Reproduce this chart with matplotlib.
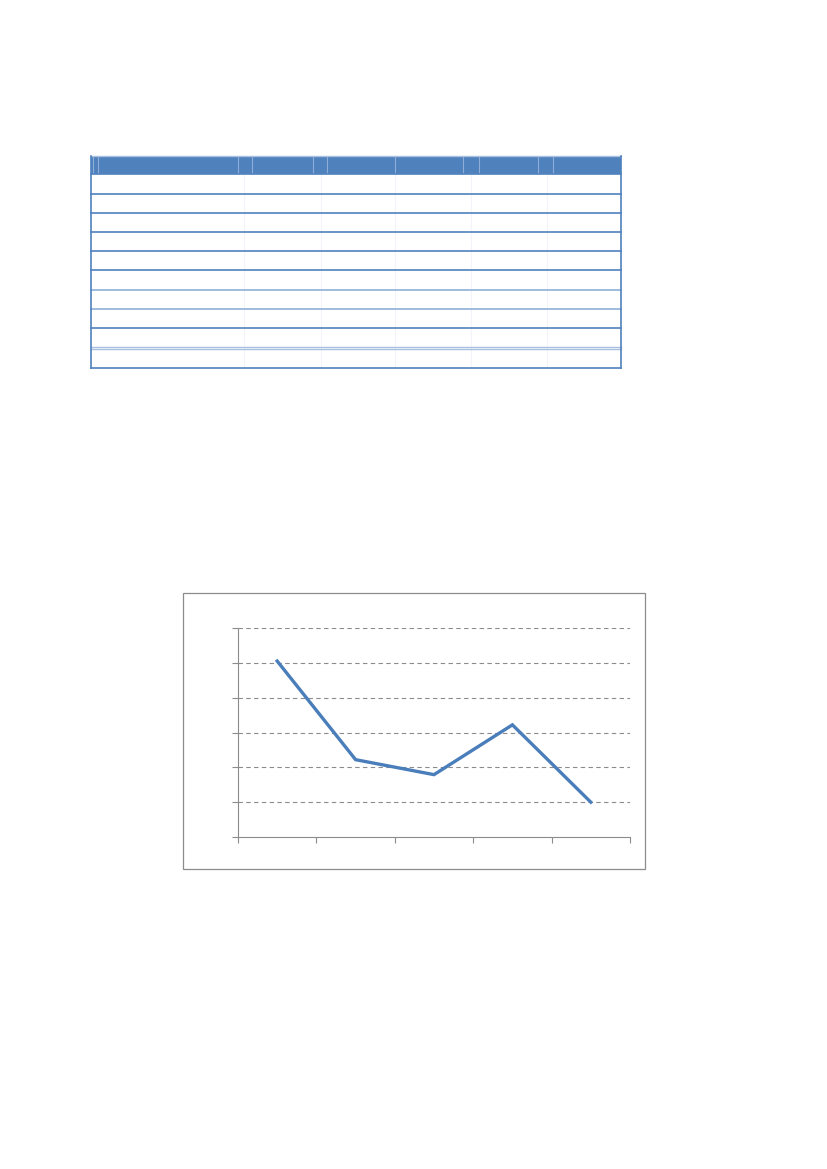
import matplotlib
matplotlib.use("Agg")
import matplotlib.pyplot as plt
from matplotlib.patches import Rectangle

# ---- data ----
categories = ["", "", "", "", ""]
values = [5.05, 2.22, 1.79, 3.22, 1.0]
y_ticks = [0, 1, 2, 3, 4, 5, 6]

# table structure (empty cells)
n_body_rows = 10
col_edges = [91, 244, 321, 395, 471, 547, 621]
header_seps = [92.5, 98.3, 237.7, 252.4, 312.6, 327.2, 395.3, 463.4, 478.7, 538.4, 553.3]
row_edges = [174.3, 194, 213, 232.3, 251.3, 270.3, 289.7, 308.7, 328, 348.3, 368.3]
row_line_colors = ["#4F81BD"] * 6 + ["#8EB0D8", "#8EB0D8", "#4F81BD", "#A9C1E0", "#4F81BD"]

W, H = 827, 1169
fig = plt.figure(figsize=(W / 100, H / 100), dpi=100)
fig.patch.set_facecolor("white")

# page-level axes in pixel coordinates
page = fig.add_axes([0, 0, 1, 1])
page.set_xlim(0, W)
page.set_ylim(H, 0)
page.axis("off")

# ---- table ----
top = 155.7
page.add_patch(Rectangle((col_edges[0], top), col_edges[-1] - col_edges[0], row_edges[0] - top,
                         facecolor="#4F81BD", edgecolor="none"))
page.plot([col_edges[0], col_edges[-1]], [top, top], color="#A9C1E0", lw=1.0)
for xs in header_seps:
    page.plot([xs, xs], [top + 1.5, row_edges[0] - 1.5], color="#8EAEDA", lw=0.8)
# body vertical faint lines
for xs in col_edges[1:-1]:
    page.plot([xs, xs], [row_edges[0], row_edges[-1]], color="#F1F5FA", lw=0.8)
# row lines
for i, (y, c) in enumerate(zip(row_edges, row_line_colors)):
    if i == 9:
        page.plot([col_edges[0], col_edges[-1]], [y - 1.0, y - 1.0], color=c, lw=1.0)
        page.plot([col_edges[0], col_edges[-1]], [y + 1.0, y + 1.0], color=c, lw=1.0)
    else:
        page.plot([col_edges[0], col_edges[-1]], [y, y], color=c, lw=1.2)
# outer left/right borders
page.plot([col_edges[0], col_edges[0]], [top, row_edges[-1]], color="#4F81BD", lw=1.2)
page.plot([col_edges[-1], col_edges[-1]], [top, row_edges[-1]], color="#4F81BD", lw=1.2)

# ---- chart frame ----
page.add_patch(Rectangle((183, 593), 645 - 183, 869 - 593, facecolor="none",
                         edgecolor="#8C8C8C", lw=0.9))

# ---- line chart ----
ax = fig.add_axes([238 / W, 1 - 837 / H, (630 - 238) / W, (837 - 628) / H])
ax.set_facecolor("none")
x = list(range(len(values)))
ax.plot(x, values, color="#4A7EBB", lw=2.4, solid_joinstyle="miter", zorder=3)
ax.set_xlim(-0.5, len(values) - 0.5)
ax.set_ylim(y_ticks[0], y_ticks[-1])
ax.set_yticks(y_ticks)
ax.set_xticks([i - 0.5 for i in range(len(values) + 1)])
ax.set_xticklabels([])
ax.set_yticklabels([])
for yv in y_ticks[1:]:
    ax.axhline(yv, color="#8C8C8C", lw=0.8, ls=(0, (4, 3)), zorder=1)
for s in ["top", "right"]:
    ax.spines[s].set_visible(False)
for s in ["left", "bottom"]:
    ax.spines[s].set_color("#8C8C8C")
    ax.spines[s].set_linewidth(0.8)
ax.tick_params(axis="both", direction="out", length=4, width=0.8, color="#8C8C8C")

fig.savefig("out.png", dpi=100, facecolor="white")
